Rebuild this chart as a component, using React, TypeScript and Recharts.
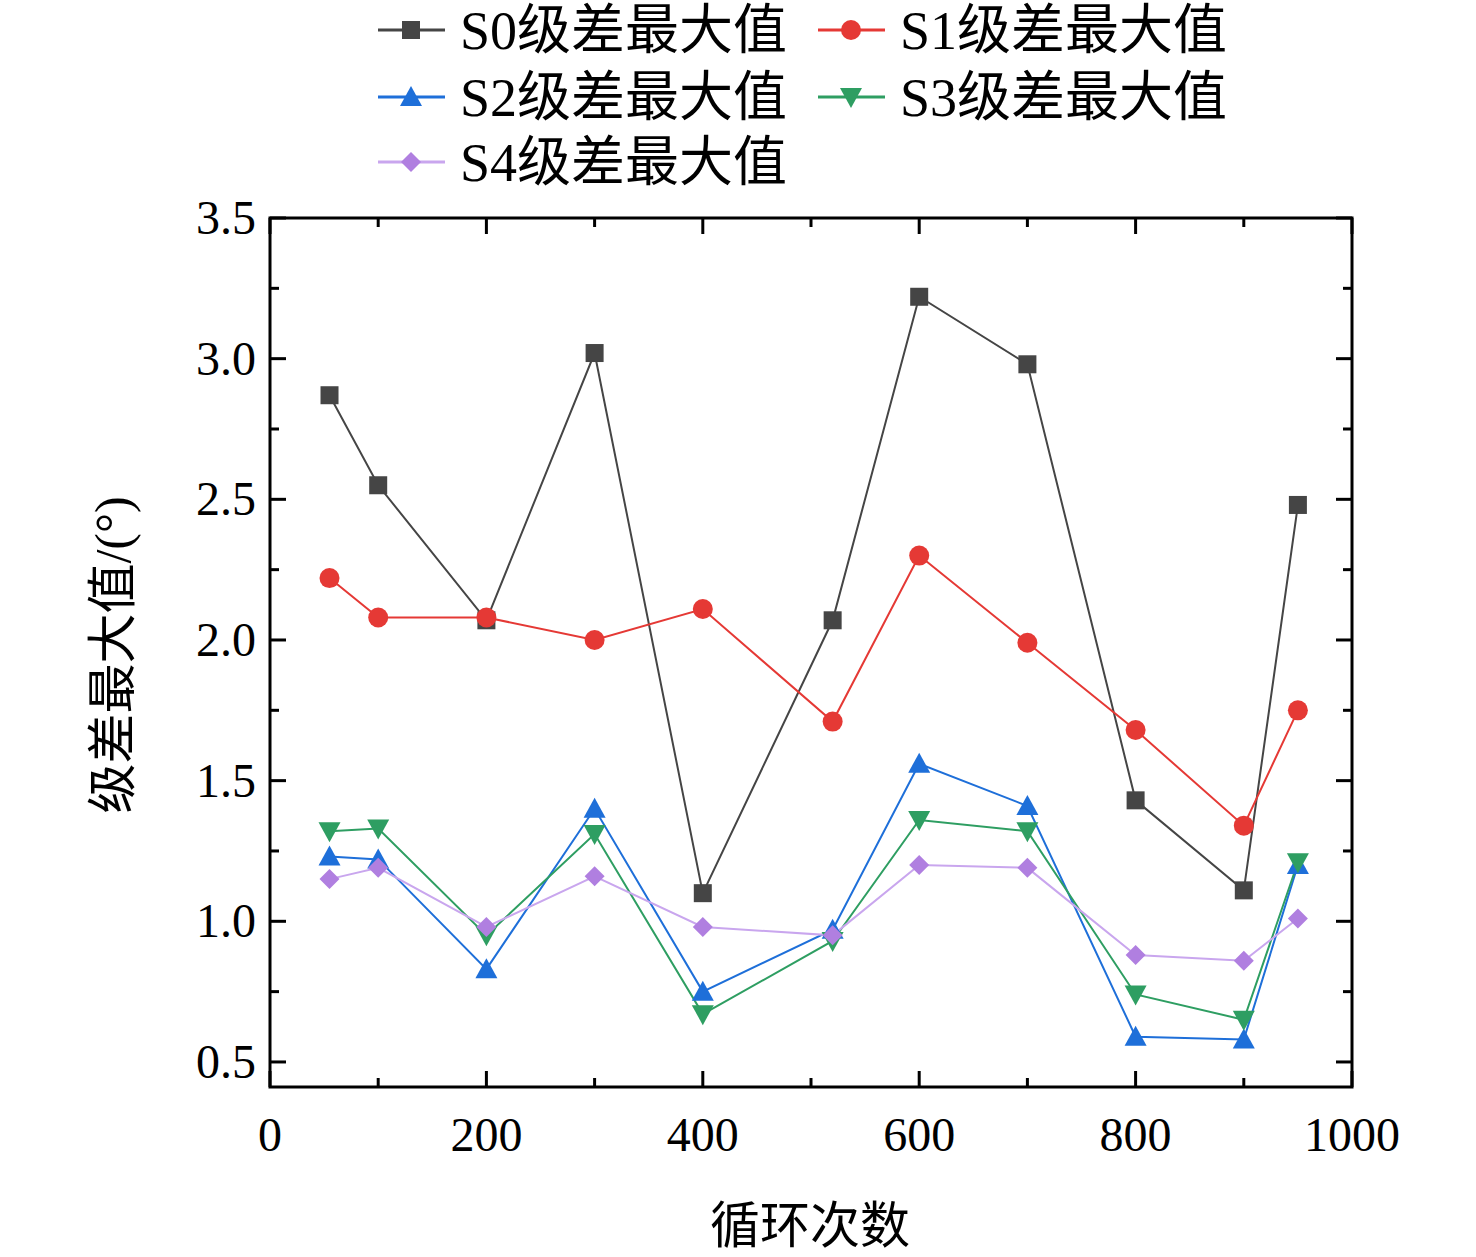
import { LineChart, Line, XAxis, YAxis } from "recharts";

const cycles = [55, 100, 200, 300, 400, 520, 600, 700, 800, 900, 950];
const s0 = [2.87, 2.55, 2.07, 3.02, 1.1, 2.07, 3.22, 2.98, 1.43, 1.11, 2.48];
const s1 = [2.22, 2.08, 2.08, 2.0, 2.11, 1.71, 2.3, 1.99, 1.68, 1.34, 1.75];
const s2 = [1.23, 1.22, 0.83, 1.4, 0.75, 0.97, 1.56, 1.41, 0.59, 0.58, 1.2];
const s3 = [1.32, 1.33, 0.95, 1.31, 0.67, 0.93, 1.36, 1.32, 0.74, 0.65, 1.21];
const s4 = [1.15, 1.19, 0.98, 1.16, 0.98, 0.95, 1.2, 1.19, 0.88, 0.86, 1.01];

const seriesNames = ["S0级差最大值", "S1级差最大值", "S2级差最大值", "S3级差最大值", "S4级差最大值"];
const colors = ["#454545", "#e53935", "#1e6fd9", "#2e9e62", "#b07fe0"];
const lineColors = ["#454545", "#e53935", "#1e6fd9", "#2e9e62", "#c9a6ee"];
const shapes = ["square", "circle", "up", "down", "diamond"];

const xTicks = [0, 100, 200, 300, 400, 500, 600, 700, 800, 900, 1000];
const yTicks = [0.5, 0.75, 1, 1.25, 1.5, 1.75, 2, 2.25, 2.5, 2.75, 3, 3.25, 3.5];

const data = cycles.map((c, i) => ({ c, s0: s0[i], s1: s1[i], s2: s2[i], s3: s3[i], s4: s4[i] }));

const FONT = '"Liberation Serif", "Noto Sans CJK SC", serif';

// plot frame
const L = 270, R = 1352, T = 218, B = 1087;

function Marker({ cx, cy, shape, color }: any) {
  if (cx == null || cy == null) return null;
  const r = 9;
  if (shape === "square") return <rect x={cx - r} y={cy - r} width={2 * r} height={2 * r} fill={color} />;
  if (shape === "circle") return <circle cx={cx} cy={cy} r={r + 1} fill={color} />;
  if (shape === "up") return <polygon points={`${cx},${cy - r - 2} ${cx + r + 2},${cy + r} ${cx - r - 2},${cy + r}`} fill={color} />;
  if (shape === "down") return <polygon points={`${cx},${cy + r + 2} ${cx + r + 2},${cy - r} ${cx - r - 2},${cy - r}`} fill={color} />;
  return <polygon points={`${cx},${cy - r - 1} ${cx + r + 1},${cy} ${cx},${cy + r + 1} ${cx - r - 1},${cy}`} fill={color} />;
}

const isMajorY = (v: number) => Math.abs(v * 2 - Math.round(v * 2)) < 1e-6;
const isMajorX = (v: number) => v % 200 === 0;

function LeftTick({ y, payload }: any) {
  const major = isMajorY(payload.value);
  const len = major ? 16 : 9;
  return (
    <g>
      <line x1={L} x2={L + len} y1={y} y2={y} stroke="#000" strokeWidth={3} />
      <line x1={R} x2={R - len} y1={y} y2={y} stroke="#000" strokeWidth={3} />
      {major && (
        <text x={L - 14} y={y + 16} textAnchor="end" fontSize={48} fontFamily={FONT} fill="#000">
          {payload.value.toFixed(1)}
        </text>
      )}
    </g>
  );
}
function BottomTick({ x, payload }: any) {
  const major = isMajorX(payload.value);
  const len = major ? 16 : 9;
  return (
    <g>
      <line x1={x} x2={x} y1={B} y2={B - len} stroke="#000" strokeWidth={3} />
      <line x1={x} x2={x} y1={T} y2={T + len} stroke="#000" strokeWidth={3} />
      {major && (
        <text x={x} y={B + 64} textAnchor="middle" fontSize={48} fontFamily={FONT} fill="#000">
          {payload.value}
        </text>
      )}
    </g>
  );
}

const legendPos = [
  [378, 30],
  [818, 30],
  [378, 97],
  [818, 97],
  [378, 162],
];

export default function App() {
  const keys = ["s0", "s1", "s2", "s3", "s4"];
  return (
    <div style={{ position: "absolute", left: 0, top: 0, width: 1476, height: 1257, background: "#fff" }}>
      <LineChart width={1476} height={1257} data={data} margin={{ top: T, right: 1476 - R, bottom: 0, left: 0 }}>
        <XAxis dataKey="c" type="number" domain={[0, 1000]} ticks={xTicks} height={1257 - B} tickSize={0} tickMargin={0}
          tick={<BottomTick />} axisLine={false} tickLine={false} interval={0} />
        <YAxis type="number" domain={[0.411, 3.5]} ticks={yTicks} width={L} tickSize={0} tickMargin={0}
          tick={<LeftTick />} axisLine={false} tickLine={false} interval={0} allowDataOverflow />
        {keys.map((k, i) => (
          <Line key={k} dataKey={k} stroke={lineColors[i]} strokeWidth={2}
            dot={(p: any) => <Marker key={p.index} cx={p.cx} cy={p.cy} shape={shapes[i]} color={colors[i]} />}
            isAnimationActive={false} />
        ))}
      </LineChart>
      <svg width={1476} height={1257} style={{ position: "absolute", left: 0, top: 0, pointerEvents: "none" }}>
        <rect x={L} y={T} width={R - L} height={B - T} fill="none" stroke="#000" strokeWidth={3} />
        {seriesNames.map((n, i) => {
          const [lx, ly] = legendPos[i];
          return (
            <g key={n}>
              <line x1={lx} x2={lx + 67} y1={ly} y2={ly} stroke={lineColors[i]} strokeWidth={3} />
              <Marker cx={lx + 33} cy={ly} shape={shapes[i]} color={colors[i]} />
              <text x={lx + 82} y={ly + 19} fontSize={54} fontFamily={FONT} fill="#000">{n}</text>
            </g>
          );
        })}
      </svg>
      <div style={{ position: "absolute", left: 0, top: 1185, width: 1620, textAlign: "center", fontSize: 50, fontFamily: FONT }}>
        循环次数
      </div>
      <div style={{ position: "absolute", left: 108, top: 655, transform: "translate(-50%,-50%) rotate(-90deg)", whiteSpace: "nowrap", fontSize: 50, fontFamily: FONT }}>
        级差最大值/(°)
      </div>
    </div>
  );
}
